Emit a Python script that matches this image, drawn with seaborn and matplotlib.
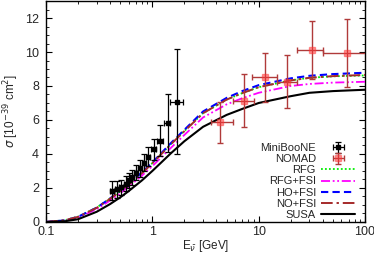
import numpy as np
import pandas as pd
import matplotlib
matplotlib.use("Agg")
import matplotlib.pyplot as plt
import seaborn as sns
from matplotlib.ticker import MultipleLocator, FixedLocator, NullFormatter

sns.set_theme(style="ticks")
plt.rcParams['font.family'] = ['Liberation Sans', 'DejaVu Sans']

# Theory curves
energy = [0.1, 0.15, 0.2, 0.3, 0.4, 0.5, 0.6, 0.8, 1.0, 1.5, 2.0, 3.0, 5.0, 7.0, 10, 20, 30, 50, 100]
susa = [0, 0.04, 0.16, 0.6, 1.05, 1.45, 1.82, 2.45, 3.0, 4.05, 4.75, 5.6, 6.3, 6.65, 7.0, 7.4, 7.6, 7.7, 7.78]
ho_fsi = [0, 0.09, 0.3, 0.84, 1.38, 1.84, 2.24, 2.92, 3.5, 4.65, 5.42, 6.5, 7.3, 7.7, 8.05, 8.45, 8.6, 8.7, 8.78]
no_fsi = [0, 0.1, 0.3, 0.83, 1.36, 1.81, 2.2, 2.87, 3.45, 4.58, 5.34, 6.4, 7.2, 7.58, 7.93, 8.33, 8.48, 8.58, 8.65]
rfg = [0, 0.1, 0.31, 0.85, 1.38, 1.82, 2.22, 2.88, 3.46, 4.59, 5.35, 6.4, 7.2, 7.58, 7.93, 8.33, 8.48, 8.57, 8.62]
rfg_fsi = [0, 0.07, 0.26, 0.75, 1.26, 1.69, 2.08, 2.73, 3.28, 4.37, 5.12, 6.15, 6.92, 7.28, 7.6, 8.0, 8.12, 8.2, 8.25]

# MiniBooNE data
mb_e = [0.42, 0.47, 0.51, 0.56, 0.60, 0.645, 0.70, 0.765, 0.84, 0.92, 1.03, 1.18, 1.39, 1.71]
mb_ex = [0.02, 0.02, 0.02, 0.02, 0.02, 0.025, 0.025, 0.03, 0.035, 0.04, 0.05, 0.07, 0.09, 0.25]
mb_sig = [1.84, 1.92, 2.04, 2.26, 2.45, 2.63, 2.90, 3.16, 3.49, 3.84, 4.27, 4.78, 5.80, 7.08]
mb_err = [0.55, 0.5, 0.45, 0.45, 0.45, 0.45, 0.45, 0.5, 0.5, 0.55, 0.6, 0.9, 1.7, 3.1]

# NOMAD data
nd_e = [4.3, 7.2, 11.5, 18.6, 31.5, 68]
nd_lo = [3.57, 5.7, 8.6, 14.9, 23, 40]
nd_hi = [5.79, 9.1, 14.9, 23, 40, 130]
nd_sig = [5.86, 7.14, 8.5, 8.25, 10.1, 9.94]
nd_err = [1.2, 1.55, 1.45, 1.55, 1.7, 2.0]

fig = plt.figure(figsize=(3.74, 2.56), dpi=100)
ax = fig.add_axes([0.123, 0.133, 0.853, 0.863])

ax.errorbar(mb_e, mb_sig, xerr=mb_ex, yerr=mb_err, fmt='s', color='black',
            ms=2.5, lw=0.9, capsize=2, capthick=0.9, label='MiniBooNE', zorder=5)
nd_xerr = [np.array(nd_e) - np.array(nd_lo), np.array(nd_hi) - np.array(nd_e)]
ax.errorbar(nd_e, nd_sig, xerr=nd_xerr, yerr=nd_err, fmt='s', color='#b03a3a',
            ecolor='#b03a3a', mfc=(1, 0.2, 0.2, 0.5), mec=(1, 0.2, 0.2, 0.5),
            ms=4, lw=1.0, capsize=2, capthick=1.0, label='NOMAD', zorder=5)

curves = [
    ('RFG', rfg, '#00ee00', (0, (1, 1.2)), 1.3),
    ('RFG+FSI', rfg_fsi, '#ff00ff', (0, (5, 1.5, 1, 1.5, 1, 1.5)), 1.3),
    ('HO+FSI', ho_fsi, '#0000ff', (0, (3.5, 2)), 1.5),
    ('NO+FSI', no_fsi, '#a52a2a', (0, (6, 2, 1.2, 2)), 1.4),
    ('SUSA', susa, 'black', '-', 1.5),
]
for name, vals, col, ls, lw in curves:
    df = pd.DataFrame({'E': energy, 'sigma': vals})
    sns.lineplot(data=df, x='E', y='sigma', ax=ax, color=col, linestyle=ls, lw=lw, label=name, zorder=3)

ax.set_xscale('log')
ax.set_xlim(0.1, 100)
ax.set_ylim(0, 13)
ax.xaxis.set_major_locator(FixedLocator([0.1, 1, 10, 100]))
ax.set_xticklabels(['0.1', '1', '10', '100'])
ax.xaxis.set_minor_formatter(NullFormatter())
ax.yaxis.set_major_locator(MultipleLocator(2))
ax.yaxis.set_minor_locator(MultipleLocator(0.5))
ax.tick_params(which='both', direction='in', top=True, right=True, labelsize=9, color='black')
ax.tick_params(which='major', length=4.5, width=0.8)
ax.tick_params(axis='y', which='major', pad=5)
ax.tick_params(axis='x', which='major', pad=3)
ax.tick_params(which='minor', length=2.5, width=0.6)
for s in ax.spines.values():
    s.set_linewidth(1.0)
    s.set_color('black')

ax.set_xlabel(r'E$_{\bar{\nu}}$ [GeV]', fontsize=8.5, labelpad=0)
ax.set_ylabel(r'$\sigma$ [10$^{-39}$ cm$^2$]', fontsize=8.5, labelpad=3)

handles, labels = ax.get_legend_handles_labels()
order = ['MiniBooNE', 'NOMAD', 'RFG', 'RFG+FSI', 'HO+FSI', 'NO+FSI', 'SUSA']
hmap = dict(zip(labels, handles))
ax.legend([hmap[k] for k in order], order, loc='lower right', frameon=False,
          markerfirst=False, fontsize=8, handlelength=3.0, labelspacing=0.1,
          handletextpad=0.5, borderaxespad=0.0, borderpad=0.2,
          bbox_to_anchor=(0.975, 0.0))

fig.savefig('out.png', dpi=100)
